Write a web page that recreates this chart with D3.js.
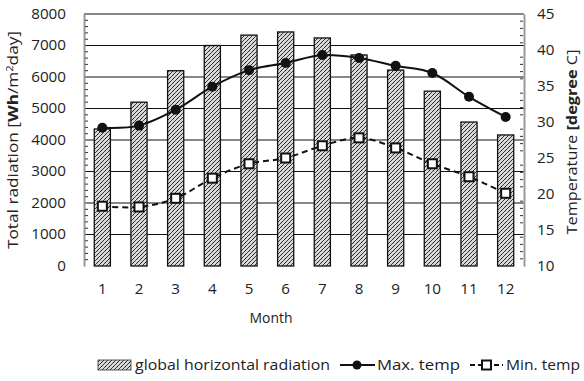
<!DOCTYPE html>
<html><head><meta charset="utf-8">
<script src="https://cdn.jsdelivr.net/npm/d3@7"></script>
<style>body{margin:0;background:#fff}text{font-family:"Open Sans",Lato,sans-serif;fill:#222}</style>
</head><body><svg id="c" width="584" height="381"></svg>
<script>
const months=[1,2,3,4,5,6,7,8,9,10,11,12];
const radiation=[4350,5200,6200,7000,7330,7430,7240,6700,6220,5550,4570,4160];
const maxTemp=[29.2,29.5,31.7,34.9,37.2,38.2,39.3,38.9,37.8,36.8,33.5,30.7];
const minTemp=[18.3,18.2,19.4,22.2,24.2,25.0,26.7,27.8,26.4,24.2,22.4,20.1];
const leftTicks=[0,1000,2000,3000,4000,5000,6000,7000,8000];
const rightTicks=[10,15,20,25,30,35,40,45];

const svg=d3.select("#c");
const L=84,R=524,T=14,B=266;
const x=d3.scaleBand().domain(months).range([L,R]).paddingInner(0.56).paddingOuter(0.28);
const yL=d3.scaleLinear().domain([0,8000]).range([B,T]);
const yR=d3.scaleLinear().domain([10,45]).range([B,T]);

const defs=svg.append("defs");
const p=defs.append("pattern").attr("id","hatch").attr("patternUnits","userSpaceOnUse").attr("width",4).attr("height",4);
p.append("rect").attr("width",4).attr("height",4).attr("fill","#d8d8d8");
p.append("path").attr("d","M-1,1 l2,-2 M0,4 l4,-4 M3,5 l2,-2").attr("stroke","#3a3a3a").attr("stroke-width",1);
p.append("rect").attr("x",1).attr("y",2).attr("width",1).attr("height",1).attr("fill","#111");

const stretch=(sel,per)=>sel.each(function(){const t=this.textContent;d3.select(this).attr("textLength",t.length*per).attr("lengthAdjust","spacingAndGlyphs");});

// gridlines
svg.append("g").selectAll("line").data(leftTicks.filter(d=>d>0)).join("line")
 .attr("x1",L).attr("x2",R).attr("y1",d=>yL(d)).attr("y2",d=>yL(d)).attr("stroke","#111").attr("stroke-width",1.2);

// bars
svg.append("g").selectAll("rect").data(months).join("rect")
 .attr("x",d=>x(d)).attr("width",x.bandwidth())
 .attr("y",(d,i)=>yL(radiation[i])).attr("height",(d,i)=>B-yL(radiation[i]))
 .attr("fill","url(#hatch)").attr("stroke","#111").attr("stroke-width",1.3);

// axes
const axL=d3.axisLeft(yL).tickValues(leftTicks).tickFormat(d3.format("d")).tickSize(0).tickPadding(18);
const gL=svg.append("g").attr("transform",`translate(${L},0)`).call(axL);
gL.select(".domain").attr("stroke","#999").attr("stroke-width",2);
gL.selectAll("text").attr("font-size",14).attr("fill","#222").call(stretch,8.7);
const axR=d3.axisRight(yR).tickValues(rightTicks).tickSize(0).tickPadding(13);
const gR=svg.append("g").attr("transform",`translate(${R},0)`).call(axR);
gR.select(".domain").attr("stroke","#999").attr("stroke-width",2);
gR.selectAll("text").attr("font-size",14).attr("fill","#222").call(stretch,8.7);
// minor ticks
svg.append("g").selectAll("line").data(d3.range(200,8000,200).filter(d=>d%1000)).join("line")
 .attr("x1",L+1).attr("x2",L+4).attr("y1",d=>yL(d)).attr("y2",d=>yL(d)).attr("stroke","#333");
svg.append("g").selectAll("line").data(d3.range(11,45,1).filter(d=>d%5)).join("line")
 .attr("x1",R-4).attr("x2",R-1).attr("y1",d=>yR(d)).attr("y2",d=>yR(d)).attr("stroke","#333");

const axX=d3.axisBottom(x).tickSize(0).tickPadding(18);
const gX=svg.append("g").attr("transform",`translate(0,${B})`).call(axX);
gX.select(".domain").remove();
gX.selectAll("text").attr("font-size",14).attr("fill","#222").call(stretch,8.7);

// lines
const cx=(d,i)=>x(months[i])+x.bandwidth()/2;
const lmax=d3.line().x(cx).y(d=>yR(d)).curve(d3.curveCatmullRom);
svg.append("path").attr("d",lmax(maxTemp)).attr("fill","none").attr("stroke","#111").attr("stroke-width",2);
const lmin=d3.line().x(cx).y(d=>yR(d)).curve(d3.curveCatmullRom);
svg.append("path").attr("d",lmin(minTemp)).attr("fill","none").attr("stroke","#111").attr("stroke-width",2).attr("stroke-dasharray","6,4");
svg.append("g").selectAll("circle").data(maxTemp).join("circle")
 .attr("cx",cx).attr("cy",d=>yR(d)).attr("r",5).attr("fill","#111");
svg.append("g").selectAll("rect").data(minTemp).join("rect")
 .attr("x",(d,i)=>cx(d,i)-4.5).attr("y",d=>yR(d)-4.5).attr("width",9).attr("height",9)
 .attr("fill","#fff").attr("stroke","#111").attr("stroke-width",2);

// titles
svg.append("text").attr("transform","translate(18,140) rotate(-90)").attr("text-anchor","middle").attr("font-size",14)
 .attr("textLength",218).attr("lengthAdjust","spacingAndGlyphs")
 .html('Total radiation [<tspan font-weight="bold">Wh</tspan>/m<tspan font-size="9" dy="-5">2</tspan><tspan dy="5">day]</tspan>');
svg.append("text").attr("transform","translate(577,142) rotate(-90)").attr("text-anchor","middle").attr("font-size",14)
 .attr("textLength",185).attr("lengthAdjust","spacingAndGlyphs")
 .html('Temperature <tspan font-weight="bold">[degree</tspan> C]');
svg.append("text").attr("x",271).attr("y",323).attr("text-anchor","middle").attr("font-size",14)
 .attr("textLength",43).attr("lengthAdjust","spacingAndGlyphs").text("Month");

// legend
const ly=370;
const lg=svg.append("g");
lg.append("rect").attr("x",98).attr("y",ly-10).attr("width",33).attr("height",10).attr("fill","url(#hatch)").attr("stroke","#333").attr("stroke-width",0.8);
lg.append("text").attr("x",135).attr("y",ly).attr("font-size",14).attr("textLength",195).attr("lengthAdjust","spacingAndGlyphs").text("global horizontal radiation");
lg.append("line").attr("x1",340).attr("x2",375).attr("y1",ly-5).attr("y2",ly-5).attr("stroke","#111").attr("stroke-width",2);
lg.append("circle").attr("cx",357).attr("cy",ly-5).attr("r",4.5).attr("fill","#111");
lg.append("text").attr("x",377).attr("y",ly).attr("font-size",14).attr("textLength",83).attr("lengthAdjust","spacingAndGlyphs").text("Max. temp");
lg.append("line").attr("x1",470).attr("x2",503).attr("y1",ly-5).attr("y2",ly-5).attr("stroke","#111").attr("stroke-width",2).attr("stroke-dasharray","5,3");
lg.append("rect").attr("x",482).attr("y",ly-9.5).attr("width",9).attr("height",9).attr("fill","#fff").attr("stroke","#111").attr("stroke-width",2);
lg.append("text").attr("x",506).attr("y",ly).attr("font-size",14).attr("textLength",74).attr("lengthAdjust","spacingAndGlyphs").text("Min. temp");
</script></body></html>
